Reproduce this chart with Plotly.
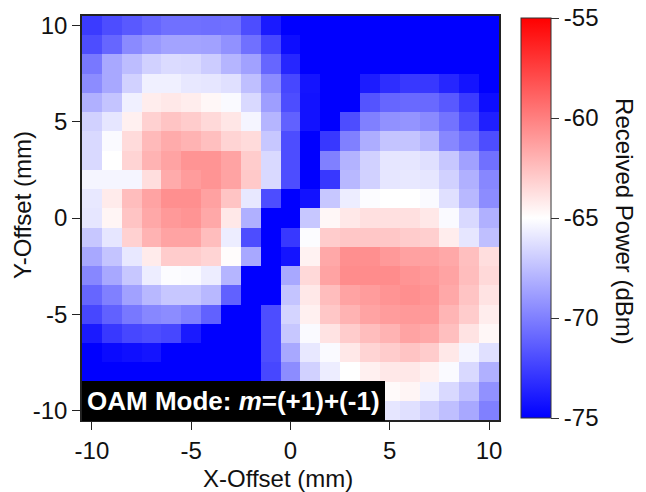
import plotly.graph_objects as go

x_vals = list(range(-10, 11))
y_vals = list(range(10, -11, -1))

# Received power (dBm), rows from Y=+10 (top) to Y=-10 (bottom), columns X=-10..10
row_p10 = [-72.7, -72.0, -71.5, -71.0, -70.6, -70.6, -70.7, -70.6, -72.0, -74.0, -76, -76, -76, -76, -76, -76, -76, -76, -76, -76, -76]
row_p9 = [-72.0, -71.0, -69.6, -69.0, -68.6, -68.6, -68.7, -69.3, -70.6, -72.2, -74.5, -76, -76, -76, -76, -76, -76, -76, -76, -76, -76]
row_p8 = [-70.3, -68.4, -67.6, -66.8, -66.4, -66.5, -67.0, -67.9, -68.7, -71.0, -73.5, -75.2, -76, -76, -76, -76, -76, -76, -75.5, -76, -76]
row_p7 = [-69.5, -68.4, -66.8, -65.6, -65.6, -65.9, -66.0, -66.2, -67.5, -69.5, -72.2, -74.2, -75.3, -76, -73.9, -73.2, -72.8, -72.8, -73.5, -74.2, -75.2]
row_p6 = [-68.1, -67.3, -65.6, -64.3, -64.1, -64.3, -64.7, -65.2, -66.5, -68.8, -72.0, -74.3, -76, -76, -71.7, -71.0, -70.9, -70.9, -71.5, -72.7, -74.5]
row_p5 = [-66.8, -66.0, -64.4, -63.2, -62.7, -63.0, -63.5, -64.0, -65.4, -67.9, -71.2, -74.3, -76, -72.0, -70.0, -69.3, -69.2, -69.6, -70.5, -71.9, -73.8]
row_p4 = [-66.5, -65.2, -63.6, -62.3, -61.7, -62.0, -62.5, -63.3, -63.6, -67.2, -72.0, -76, -72.8, -70.0, -68.2, -67.3, -67.3, -67.9, -69.7, -70.6, -72.0]
row_p3 = [-66.5, -65.0, -63.3, -62.0, -61.4, -60.8, -60.8, -61.4, -63.0, -66.5, -72.0, -76, -70.0, -68.0, -66.8, -66.0, -66.0, -66.2, -67.2, -68.7, -70.6]
row_p2 = [-65.4, -65.4, -65.4, -63.7, -61.7, -61.1, -60.8, -61.4, -62.9, -66.5, -72.0, -76, -72.8, -67.8, -66.8, -66.0, -65.9, -66.0, -66.8, -68.1, -69.7]
row_p1 = [-65.9, -64.2, -62.4, -61.4, -60.6, -60.6, -61.3, -62.7, -65.9, -72.0, -76, -74.3, -67.2, -65.7, -65.1, -65.0, -65.0, -65.2, -66.2, -67.8, -69.5]
row_0 = [-66.0, -64.6, -62.7, -61.6, -61.0, -60.8, -61.6, -64.1, -68.1, -76, -76, -67.2, -64.7, -64.1, -63.8, -63.8, -63.8, -64.1, -65.2, -66.5, -68.1]
row_m1 = [-67.2, -66.0, -63.2, -62.0, -61.4, -61.4, -62.4, -65.7, -72.0, -76, -72.8, -65.1, -63.0, -62.8, -62.8, -62.8, -63.0, -63.1, -64.3, -66.0, -67.5]
row_m2 = [-68.4, -67.3, -65.9, -64.2, -63.0, -63.0, -63.3, -64.9, -68.4, -76, -74.2, -64.5, -61.6, -60.6, -60.6, -61.0, -61.3, -61.3, -61.6, -62.5, -63.7]
row_m3 = [-69.7, -68.4, -67.2, -65.7, -65.1, -65.2, -65.7, -67.9, -76, -76, -68.4, -63.5, -61.4, -60.5, -60.5, -60.5, -60.8, -61.0, -61.4, -62.4, -63.5]
row_m4 = [-71.0, -70.0, -68.7, -67.8, -67.2, -67.2, -67.8, -71.2, -76, -76, -67.3, -64.1, -62.4, -61.4, -61.1, -60.8, -60.6, -60.8, -61.6, -62.7, -63.9]
row_m5 = [-72.2, -71.2, -70.3, -69.7, -69.5, -70.0, -71.2, -76, -76, -72.0, -66.7, -64.4, -62.8, -62.0, -61.4, -61.1, -61.0, -61.0, -62.1, -63.0, -64.3]
row_m6 = [-74.0, -72.8, -72.2, -72.0, -72.2, -74.0, -76, -76, -76, -72.0, -67.2, -65.2, -63.9, -63.0, -62.4, -62.0, -61.4, -61.6, -62.5, -63.9, -64.7]
row_m7 = [-75.5, -74.6, -74.4, -74.2, -76, -76, -76, -76, -76, -72.0, -68.4, -65.9, -65.2, -64.1, -63.3, -63.0, -62.7, -63.0, -64.1, -65.4, -66.2]
row_m8 = [-76, -76, -76, -76, -76, -76, -76, -76, -76, -72.2, -69.5, -66.8, -65.7, -65.0, -64.4, -64.1, -64.1, -64.4, -65.2, -66.5, -68.1]
row_m9 = [-76, -76, -76, -76, -76, -76, -76, -76, -76, -72.5, -70.0, -67.5, -66.5, -65.8, -65.2, -64.8, -64.6, -65.6, -66.5, -67.5, -69.3]
row_m10 = [-76, -76, -76, -76, -76, -76, -76, -76, -76, -73.0, -71.0, -69.0, -67.8, -67.0, -66.5, -66.0, -66.2, -66.8, -67.5, -68.4, -70.0]

z_rows = [row_p10, row_p9, row_p8, row_p7, row_p6, row_p5, row_p4, row_p3, row_p2, row_p1, row_0,
          row_m1, row_m2, row_m3, row_m4, row_m5, row_m6, row_m7, row_m8, row_m9, row_m10]

axis_ticks = [-10, -5, 0, 5, 10]
cbar_ticks = [-75, -70, -65, -60, -55]
cbar_labels = ["-75", "-70", "-65", "-60", "-55"]

FONT = "Liberation Sans, Arial, Helvetica, sans-serif"
FS = 24
TXT = "#111111"

Z_MIN, Z_MAX = -75, -55

fig = go.Figure()
fig.add_trace(go.Heatmap(
    x=x_vals, y=y_vals, z=z_rows,
    zmin=Z_MIN, zmax=Z_MAX,
    colorscale=[[0, "#0000ff"], [0.5, "#ffffff"], [1, "#ff0000"]],
    colorbar=dict(
        thickness=30, thicknessmode="pixels",
        len=400, lenmode="pixels",
        x=1.053, xanchor="left", xpad=0,
        y=0.5, yanchor="middle", ypad=0,
        outlinecolor="#333333", outlinewidth=1,
        tickvals=cbar_ticks, ticktext=cbar_labels,
        ticks="outside", ticklen=8, tickcolor="#333333", tickwidth=1,
        ticklabeloverflow="allow",
        tickfont=dict(family=FONT, size=FS, color=TXT),
    ),
))

axis_common = dict(
    range=[-10.5, 10.5], tickvals=axis_ticks, ticktext=[str(v) for v in axis_ticks],
    ticks="outside", ticklen=8, tickcolor="#222222", showgrid=False, zeroline=False,
    showline=True, linecolor="#222222", linewidth=1.5, mirror=True,
    tickfont=dict(family=FONT, size=FS, color=TXT), automargin=False,
)

# page body has an 8px default margin, so the figure is 8px smaller than the window
fig.update_layout(
    width=638, height=484,
    margin=dict(l=74, r=147, t=8, b=72, autoexpand=False),
    paper_bgcolor="white", plot_bgcolor="white",
    font=dict(family=FONT, size=FS, color=TXT),
    xaxis=axis_common,
    yaxis=axis_common,
    annotations=[
        dict(
            text="<b>OAM Mode: <i>m</i>=(+1)+(-1)</b>",
            xref="paper", yref="paper", x=0, y=0, xanchor="left", yanchor="bottom",
            showarrow=False, bgcolor="black", borderpad=5, borderwidth=0,
            font=dict(family=FONT, size=26, color="white"), yshift=-1,
        ),
        dict(
            text="X-Offset (mm)",
            xref="paper", yref="paper", x=0.47, y=-0.145, xanchor="center", yanchor="middle",
            showarrow=False, font=dict(family=FONT, size=FS, color=TXT),
        ),
        dict(
            text="Y-Offset (mm)",
            xref="paper", yref="paper", x=-0.144, y=0.532, xanchor="center", yanchor="middle",
            showarrow=False, textangle=-90, font=dict(family=FONT, size=FS, color=TXT),
        ),
        dict(
            text="Received Power (dBm)",
            xref="paper", yref="paper", x=1.302, y=0.49, xanchor="center", yanchor="middle",
            showarrow=False, textangle=90,
            font=dict(family=FONT, size=FS, color=TXT),
        ),
    ],
)

fig.write_html("out.html")
